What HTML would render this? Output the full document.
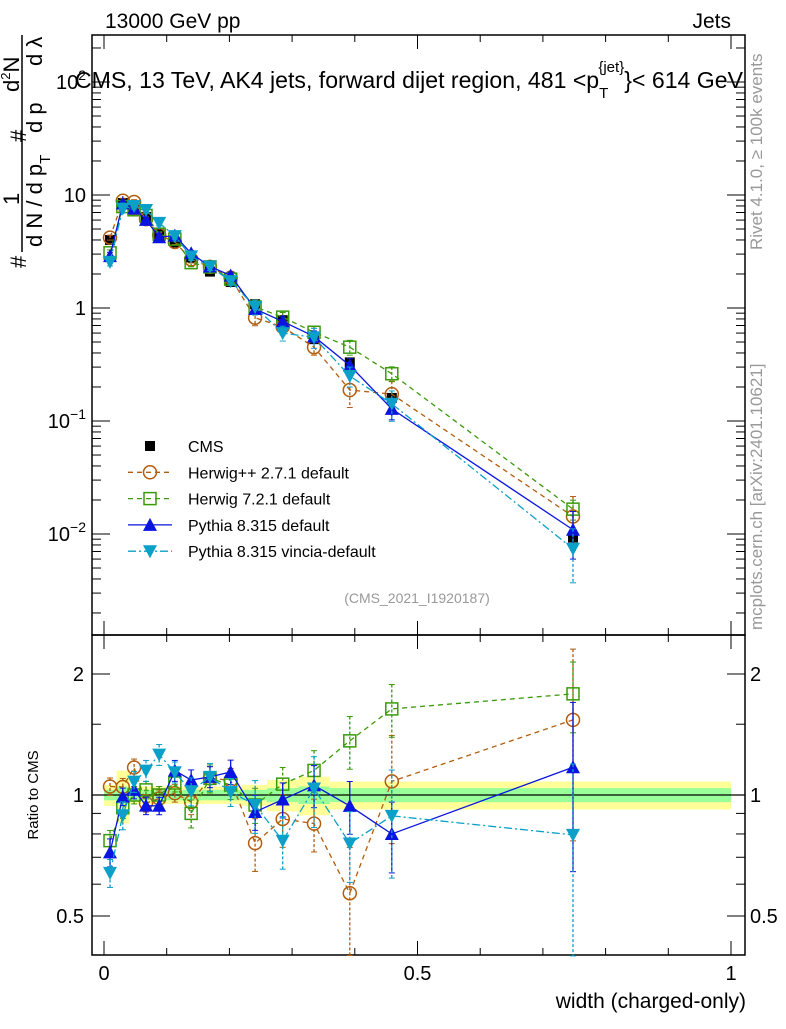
<!DOCTYPE html>
<html><head><meta charset="utf-8"><style>
body{margin:0;background:#fff;font-family:"Liberation Sans",sans-serif}
svg text{font-family:"Liberation Sans",sans-serif}
</style></head><body>
<svg id="c" width="786" height="1024" viewBox="0 0 786 1024">
<text x="105" y="28" font-size="21">13000 GeV pp</text>
<text x="731" y="28" font-size="21" text-anchor="end">Jets</text>
<text x="75" y="88" font-size="23" textLength="668" lengthAdjust="spacingAndGlyphs">CMS, 13 TeV, AK4 jets, forward dijet region, 481 &lt;p<tspan dy="10" font-size="15">T</tspan><tspan dy="-26" dx="-10" font-size="15">{jet}</tspan><tspan dy="16">}&lt; 614 GeV</tspan></text>
<text transform="translate(762,250) rotate(-90)" font-size="17" fill="#999">Rivet 4.1.0, ≥ 100k events</text>
<text transform="translate(762,630) rotate(-90)" font-size="17" fill="#999">mcplots.cern.ch [arXiv:2401.10621]</text>
<text x="417" y="603" font-size="14" fill="#999" text-anchor="middle">(CMS_2021_I1920187)</text>
<g font-size="22">
<line x1="22" y1="252" x2="22" y2="35" stroke="#000" stroke-width="1.5"/>
<text transform="translate(26,268) rotate(-90)">#</text>
<text transform="translate(19,205) rotate(-90)">1</text>
<text transform="translate(26,142) rotate(-90)">#</text>
<text transform="translate(19,92) rotate(-90)">d<tspan font-size="13" dy="-9">2</tspan><tspan dy="9">N</tspan></text>
<text transform="translate(42,247) rotate(-90)">d N / d p<tspan font-size="15" dy="8">T</tspan></text>
<text transform="translate(42,133) rotate(-90)">d p</text>
<text transform="translate(42,66) rotate(-90)">d λ</text>
</g>
<text transform="translate(38,795) rotate(-90)" font-size="15" text-anchor="middle">Ratio to CMS</text>
<text x="746" y="1008" font-size="21" text-anchor="end">width (charged-only)</text>
<g id="g"></g>
</svg>
<script>
const xs=[0.0096,0.030,0.048,0.067,0.088,0.113,0.139,0.169,0.202,0.241,0.285,0.335,0.392,0.459,0.748];
const edges=[0,0.02,0.04,0.06,0.08,0.1,0.125,0.155,0.185,0.22,0.26,0.31,0.36,0.425,0.5,1.0];
const cms=[4.0,8.5,7.4,6.4,4.5,3.8,2.8,2.1,1.7,1.08,0.78,0.53,0.33,0.16,0.0093];
const cmsTot=[0.06,0.15,0.05,0.05,0.05,0.05,0.05,0.05,0.05,0.06,0.09,0.11,0.08,0.08,0.08];
const cmsStat=[0.03,0.05,0.03,0.03,0.03,0.03,0.03,0.03,0.03,0.03,0.04,0.05,0.04,0.04,0.04];
const herwigpp=[4.2,8.9,8.66,6.11,4.41,3.84,2.69,2.31,1.85,0.82,0.68,0.45,0.188,0.173,0.0143];
const herwigppErr=[0.05,0.05,0.05,0.05,0.05,0.05,0.07,0.07,0.07,0.15,0.15,0.15,0.3,0.3,0.5];
const herwig7=[3.08,7.9,7.4,6.59,4.5,4.07,2.52,2.31,1.8,1.02,0.83,0.61,0.45,0.262,0.0166];
const herwig7Err=[0.06,0.06,0.05,0.05,0.05,0.05,0.08,0.08,0.08,0.1,0.1,0.12,0.15,0.15,0.2];
const pythia=[2.88,8.42,7.62,6.02,4.23,4.37,3.05,2.33,1.94,0.98,0.76,0.56,0.31,0.128,0.0109];
const pythiaErr=[0.08,0.05,0.05,0.05,0.05,0.06,0.06,0.06,0.07,0.1,0.1,0.12,0.15,0.2,0.45];
const vincia=[2.56,7.57,7.99,7.36,5.67,4.33,2.86,2.33,1.73,1.02,0.6,0.55,0.25,0.142,0.0074];
const vinciaErr=[0.08,0.08,0.06,0.06,0.06,0.06,0.08,0.08,0.08,0.15,0.15,0.2,0.2,0.3,0.5];
const mainTicks=[[100,"10^2"],[10,"10"],[1,"1"],[0.1,"10^-1"],[0.01,"10^-2"]];
const ratioTicks=[[2,"2"],[1,"1"],[0.5,"0.5"]];
const xTicks=[[0,"0"],[0.5,"0.5"],[1,"1"]];

const L=92,R=745,T=35,M=635,B=955;
const X=v=>104+627*v;
const Y=v=>308-113*Math.log10(v);
const YR=v=>795-121*Math.log2(v);
const g=document.getElementById('g');
const NS='http://www.w3.org/2000/svg';
function mk(t,a,p){const e=document.createElementNS(NS,t);for(const k in a)e.setAttribute(k,a[k]);(p||g).appendChild(e);return e;}

cms.forEach((c,i)=>{
 const y=mk('rect',{x:X(edges[i]),width:X(edges[i+1])-X(edges[i]),y:YR(1+cmsTot[i]),height:YR(1-cmsTot[i])-YR(1+cmsTot[i]),fill:'#ffff99'});
 
 
 const s=mk('rect',{x:X(edges[i]),width:X(edges[i+1])-X(edges[i]),y:YR(1+cmsStat[i]),height:YR(1-cmsStat[i])-YR(1+cmsStat[i]),fill:'#99ff99'});
 
 
});
const one=mk('line',{x1:L,x2:R,y1:YR(1),y2:YR(1),stroke:'#000','stroke-width':1.3});



const f1=mk('rect',{x:L,y:T,width:R-L,height:M-T,fill:'none',stroke:'#000','stroke-width':1.5});


const f2=mk('rect',{x:L,y:M,width:R-L,height:B-M,fill:'none',stroke:'#000','stroke-width':1.5});



for(let k=0;k<=10;k++){const v=k/10;const len=(k%5==0)?14:7;
 [[B,-1],[M,-1],[M,1],[T,1]].forEach(([y,d])=>mk('line',{x1:X(v),x2:X(v),y1:y,y2:y+d*len,stroke:'#000'}));}
xTicks.forEach(([v,l])=>{const t=mk('text',{x:X(v),y:980,'font-size':20,'text-anchor':'middle'});t.textContent=l;
 
 });
for(let d=-3;d<=2;d++)for(let m=1;m<10;m++){const v=m*Math.pow(10,d);const y=Y(v);if(y<T||y>M)continue;const len=m==1?18:9;
 mk('line',{x1:L,x2:L+len,y1:y,y2:y,stroke:'#000'});mk('line',{x1:R,x2:R-len,y1:y,y2:y,stroke:'#000'});}
mainTicks.forEach(([v,l])=>{const t=mk('text',{x:86,y:Y(v)+7,'font-size':20,'text-anchor':'end'});
 const p=l.split('^');t.textContent=p[0];if(p[1]){const s=mk('tspan',{dy:-9,'font-size':14},t);s.textContent=p[1].replace('-','−');}
 
 });
for(let m=4;m<=25;m++){const v=m/10;const y=YR(v);if(y<M||y>B)continue;
 if(v>1&&m%5!=0)continue;const len=(v==0.5||v==1||v==2)?18:9;
 mk('line',{x1:L,x2:L+len,y1:y,y2:y,stroke:'#000'});mk('line',{x1:R,x2:R-len,y1:y,y2:y,stroke:'#000'});}
ratioTicks.forEach(([v,l])=>{[[84,'end'],[750,'start']].forEach(([x,a])=>{const t=mk('text',{x:x,y:YR(v)+7,'font-size':20,'text-anchor':a});t.textContent=l;
 
 });});

function marker(type,x,y,col){
 if(type=='sq')return mk('rect',{x:x-5,y:y-5,width:10,height:10,fill:'#000'});
 if(type=='osq')return mk('rect',{x:x-6,y:y-6,width:12,height:12,fill:'none',stroke:col,'stroke-width':1.5});
 if(type=='oc')return mk('circle',{cx:x,cy:y,r:6.5,fill:'none',stroke:col,'stroke-width':1.5});
 if(type=='tu')return mk('polygon',{points:`${x},${y-7} ${x-7},${y+6} ${x+7},${y+6}`,fill:col});
 if(type=='td')return mk('polygon',{points:`${x},${y+7} ${x-7},${y-6} ${x+7},${y-6}`,fill:col});
}
const series=[
 {n:'herwigpp',v:herwigpp,e:herwigppErr,c:'#b25c0c',m:'oc',d:'5,4'},
 {n:'herwig7',v:herwig7,e:herwig7Err,c:'#3a9a0a',m:'osq',d:'5,4'},
 {n:'pythia',v:pythia,e:pythiaErr,c:'#0a14e0',m:'tu',d:''},
 {n:'vincia',v:vincia,e:vinciaErr,c:'#0aa0c8',m:'td',d:'8,3,2,3'}];
cms.forEach((c,i)=>{const y1=Y(c*(1+cmsTot[i])),y2=Y(c*(1-cmsTot[i]));mk('line',{x1:X(xs[i]),x2:X(xs[i]),y1:y1,y2:y2,stroke:'#000'});
 const m=marker('sq',X(xs[i]),Y(c));
 
 });
series.forEach(s=>{
 ['main','ratio'].forEach(pl=>{
  const f=i=>pl=='main'?Y(s.v[i]):YR(s.v[i]/cms[i]);
  const pts=xs.map((x,i)=>X(x)+','+f(i)).join(' ');
  const pl_=mk('polyline',{points:pts,fill:'none',stroke:s.c,'stroke-width':1.3,'stroke-dasharray':s.d});
  
  
  xs.forEach((x,i)=>{const base=pl=='main'?s.v[i]:s.v[i]/cms[i];const ff=pl=='main'?Y:YR;
   const ya=ff(base*(1+s.e[i])),yb=ff(Math.max(base*(1-s.e[i]),1e-4));
   mk('line',{x1:X(x),x2:X(x),y1:ya,y2:yb,stroke:s.c,'stroke-width':1.3,'stroke-dasharray':s.d?'3,2':''});
   mk('line',{x1:X(x)-3,x2:X(x)+3,y1:ya,y2:ya,stroke:s.c});mk('line',{x1:X(x)-3,x2:X(x)+3,y1:yb,y2:yb,stroke:s.c});
   const m=marker(s.m,X(x),ff(base),s.c);
   
   });
 });
});
const leg=[['CMS','sq','#000',''],['Herwig++ 2.7.1 default','oc','#b25c0c','5,4'],['Herwig 7.2.1 default','osq','#3a9a0a','5,4'],['Pythia 8.315 default','tu','#0a14e0',''],['Pythia 8.315 vincia-default','td','#0aa0c8','8,3,2,3']];
leg.forEach(([t,m,c,d],i)=>{const y=446+i*26.3;
 if(i>0)mk('line',{x1:128,x2:172,y1:y,y2:y,stroke:c,'stroke-width':1.3,'stroke-dasharray':d});
 const mm=marker(m,150,y,c);
 
 
 const tx=mk('text',{x:188,y:y+6,'font-size':16});tx.textContent=t;
 
 });
</script>
</body></html>
